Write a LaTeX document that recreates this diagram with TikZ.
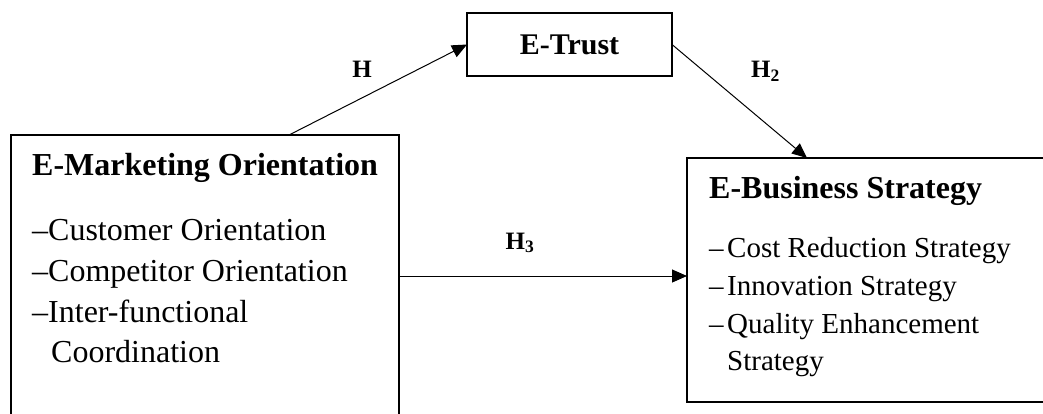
\documentclass[tikz,border=0pt]{standalone}
\usepackage{fontspec}
\setmainfont{Liberation Serif}
\usetikzlibrary{arrows.meta}

\tikzset{
  box/.style={draw, line width=2pt, inner sep=0pt, outer sep=0pt},
  item/.style={anchor=base west, inner sep=0pt},
  link/.style={line width=1pt, -{Triangle[length=15pt,width=13pt]}},
  hyp/.style={font=\fontsize{25}{29}\selectfont\bfseries, inner sep=0pt}
}
\newcommand{\dashitem}{\makebox[18pt][l]{–}}

\begin{document}
\begin{tikzpicture}[x=1pt,y=-1pt]
\useasboundingbox (0,0) rectangle (1043,413);
\clip (0,0) rectangle (1043,413);

%Boites
\node[box, anchor=north west, minimum width=388pt, minimum height=282pt] (emo) at (11,135) {};
\node[box, anchor=north west, minimum width=400pt, minimum height=244pt] (ebs) at (687,158) {};
\node[box, minimum width=205pt, minimum height=63pt, font=\fontsize{30}{32}\selectfont\bfseries] (trust) at (569.5,44.5) {E-Trust};

%Orientation
\node[item, font=\fontsize{32}{38}\selectfont\bfseries] (emotitle) at ([shift={(21,40)}]emo.north west) {E-Marketing Orientation};
\node[item, font=\fontsize{32}{38}\selectfont] (emoa) at ([shift={(21,105)}]emo.north west) {–Customer Orientation};
\node[item, font=\fontsize{32}{38}\selectfont] (emob) at ([shift={(21,146)}]emo.north west) {–Competitor Orientation};
\node[item, font=\fontsize{32}{38}\selectfont] (emoc) at ([shift={(21,187)}]emo.north west) {–Inter-functional};
\node[item, font=\fontsize{32}{38}\selectfont] (emod) at ([shift={(40,227)}]emo.north west) {Coordination};

%Strategie
\node[item, font=\fontsize{32}{38}\selectfont\bfseries] (ebstitle) at ([shift={(22,40)}]ebs.north west) {E-Business Strategy};
\node[item, font=\fontsize{29}{34}\selectfont] (ebsa) at ([shift={(22,99)}]ebs.north west) {\dashitem Cost Reduction Strategy};
\node[item, font=\fontsize{29}{34}\selectfont] (ebsb) at ([shift={(22,137)}]ebs.north west) {\dashitem Innovation Strategy};
\node[item, font=\fontsize{29}{34}\selectfont] (ebsc) at ([shift={(22,175)}]ebs.north west) {\dashitem Quality Enhancement};
\node[item, font=\fontsize{29}{34}\selectfont] (ebsd) at ([shift={(40,212)}]ebs.north west) {Strategy};

%Hypotheses
\draw[link] ([xshift=84pt]emo.north) -- (trust.west) node[hyp, pos=0.5, xshift=-16pt, yshift=20pt] (h) {H};
\draw[link] (trust.east) -- ([xshift=120pt]ebs.north west) node[hyp, pos=0.5, xshift=26pt, yshift=30pt] (hb) {H\textsubscript{2}};
\draw[link] (emo.east) -- (emo.east -| ebs.west) node[hyp, pos=0.42, yshift=33pt] (hc) {H\textsubscript{3}};

\end{tikzpicture}
\end{document}
